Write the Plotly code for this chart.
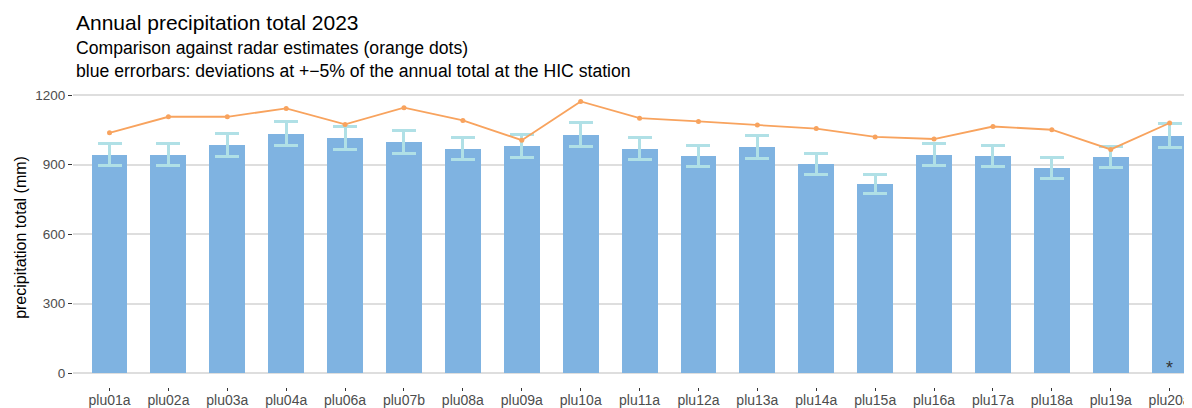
import plotly.graph_objects as go

# Données
stations = ["plu01a", "plu02a", "plu03a", "plu04a", "plu06a", "plu07b", "plu08a",
            "plu09a", "plu10a", "plu11a", "plu12a", "plu13a", "plu14a", "plu15a",
            "plu16a", "plu17a", "plu18a", "plu19a", "plu20a"]
gauge_total = [942, 942, 985, 1032, 1015, 998, 968, 981, 1028, 968, 937, 976, 903,
               816, 942, 937, 885, 933, 1024]
radar_total = [1037, 1106, 1106, 1142, 1073, 1145, 1090, 1005, 1172, 1100, 1086,
               1071, 1055, 1019, 1010, 1064, 1050, 965, 1079]
notes = [""] * 18 + ["*"]
y_ticks = [0, 300, 600, 900, 1200]

FONT = "Liberation Sans, Arial, sans-serif"
PLOT_H = 299  # hauteur de la zone de tracé en pixels

fig = go.Figure()

# Barres + barres d'erreur (+-5 %)
fig.add_trace(go.Bar(
    x=stations,
    y=gauge_total,
    width=0.61,
    marker=dict(color="#7FB3E1", line=dict(width=0)),
    error_y=dict(type="percent", value=5, color="#B0E0E6", thickness=3, width=12),
    hoverinfo="x+y",
    name="",
))

# Estimations radar
fig.add_trace(go.Scatter(
    x=stations,
    y=radar_total,
    mode="lines+markers",
    line=dict(color="#F8A35E", width=1.8),
    marker=dict(color="#F8A35E", size=5),
    name="",
))

# Astérisques
for st, note in zip(stations, notes):
    if note:
        fig.add_annotation(x=st, y=0, text=note, showarrow=False, yanchor="bottom",
                           yshift=-7, font=dict(family=FONT, size=18, color="#333333"))

# Lignes 0 et 1200 (plus foncées)
for v in (y_ticks[0], y_ticks[-1]):
    fig.add_hline(y=v, line=dict(color="#BDBDBD", width=1), layer="below")

# Titre et sous-titre (2 lignes)
fig.add_annotation(text="Annual precipitation total 2023", xref="paper", yref="paper",
                   x=0.001, y=1 + 65 / PLOT_H, xanchor="left", yanchor="middle",
                   showarrow=False, font=dict(family=FONT, size=21, color="#000000"))
fig.add_annotation(text="Comparison against radar estimates (orange dots)<br>"
                        "blue errorbars: deviations at +\u22125% of the annual total at the HIC station",
                   xref="paper", yref="paper", x=0.001, y=1 + 29 / PLOT_H,
                   xanchor="left", yanchor="middle", align="left", showarrow=False,
                   font=dict(family=FONT, size=17.6, color="#000000"))

# la page ajoute 8 px de marge : on compense
fig.update_layout(
    width=1184,
    height=400,
    margin=dict(l=65, r=0, t=80, b=21),
    template="plotly_white",
    plot_bgcolor="white",
    showlegend=False,
    font=dict(family=FONT, color="#000000"),
    bargap=0,
)

fig.update_xaxes(
    range=[-0.62, 18.38],
    showgrid=False,
    showline=False,
    zeroline=False,
    ticks="outside",
    ticklen=3,
    tickwidth=1,
    tickcolor="#333333",
    tickfont=dict(family=FONT, size=14, color="#4D4D4D"),
    ticklabelstandoff=-3,
    automargin=False,
)
fig.update_yaxes(
    range=[-60.4, 1230.2],
    tickvals=y_ticks,
    ticks="outside",
    ticklen=4,
    tickwidth=1,
    tickcolor="#333333",
    tickfont=dict(family=FONT, size=13.5, color="#4D4D4D"),
    showgrid=True,
    gridcolor="#DEDEDE",
    gridwidth=2,
    zeroline=False,
    showline=False,
    title=dict(text="precipitation total (mm)",
               font=dict(family=FONT, size=16, color="#000000"), standoff=4),
    automargin=False,
)

fig.write_html("out.html")
